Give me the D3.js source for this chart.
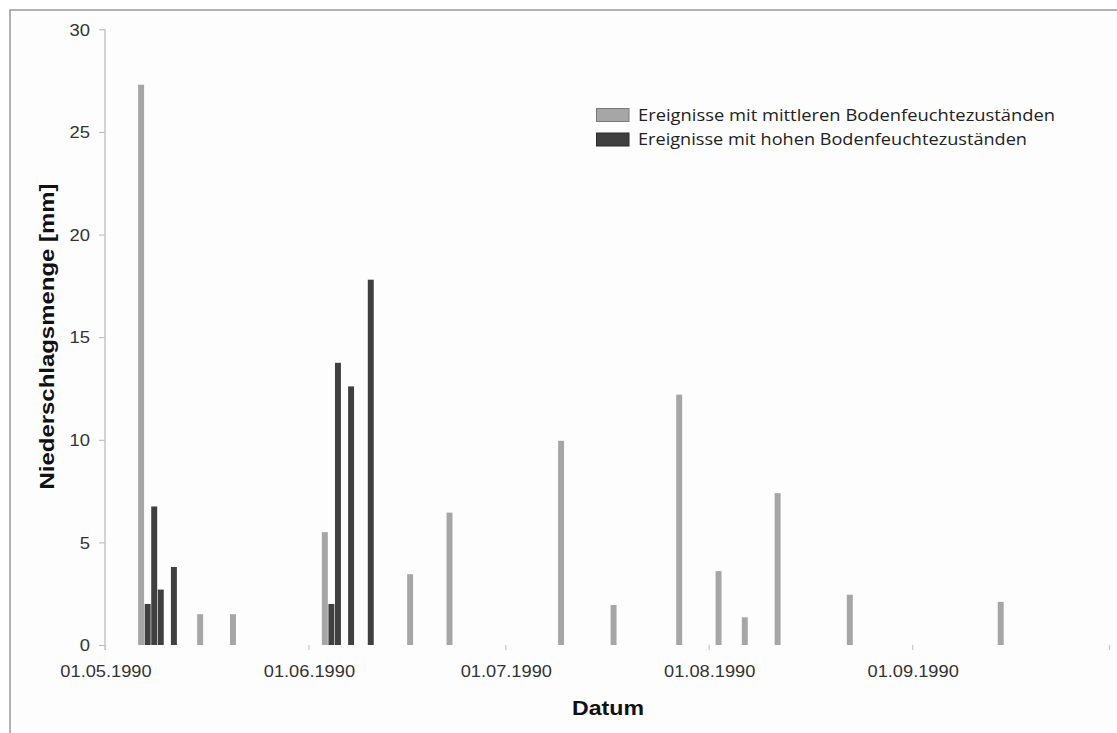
<!DOCTYPE html>
<html>
<head>
<meta charset="utf-8">
<script src="https://cdn.jsdelivr.net/npm/d3@7"></script>
<style>
  html, body { margin: 0; padding: 0; background: #ffffff; }
  svg { display: block; }
</style>
</head>
<body>
<svg id="chart" width="1117" height="733"></svg>
<script>
// ---- data ----
const seriesNames = ["Ereignisse mit mittleren Bodenfeuchtezuständen", "Ereignisse mit hohen Bodenfeuchtezuständen"];
const mittlereDates = ["1990-05-06","1990-05-15","1990-05-20","1990-06-03","1990-06-16","1990-06-22","1990-07-09","1990-07-17","1990-07-27","1990-08-02","1990-08-06","1990-08-11","1990-08-22","1990-09-14"];
const mittlereValues = [27.3, 1.5, 1.5, 5.5, 3.45, 6.45, 9.95, 1.95, 12.2, 3.6, 1.35, 7.4, 2.45, 2.1];
const hoheDates = ["1990-05-07","1990-05-08","1990-05-09","1990-05-11","1990-06-04","1990-06-05","1990-06-07","1990-06-10"];
const hoheValues = [2.0, 6.75, 2.7, 3.8, 2.0, 13.75, 12.6, 17.8];
const xTickDates = ["1990-05-01","1990-06-01","1990-07-01","1990-08-01","1990-09-01","1990-10-01"];
const xLabelDates = ["1990-05-01","1990-06-01","1990-07-01","1990-08-01","1990-09-01"];
const yTicks = [0, 5, 10, 15, 20, 25, 30];
const colors = ["#a6a6a6", "#404040"];

const parse = d3.utcParse("%Y-%m-%d");
const fmt = d3.utcFormat("%d.%m.%Y");

const svg = d3.select("#chart");

// outer frame (extends beyond the image at right/bottom)
svg.append("rect").attr("x", 10).attr("y", 10).attr("width", 1200).attr("height", 800)
  .attr("fill", "#fdfdfd").attr("stroke", "#9a9a9a").attr("stroke-width", 1.5);

const x = d3.scaleUtc().domain([parse("1990-05-01"), parse("1990-10-01")]).range([105, 1109]);
const y = d3.scaleLinear().domain([0, 30]).range([645, 29.3]);

function stretch(sel, k) {
  sel.each(function() {
    const w = this.getComputedTextLength();
    d3.select(this).attr("textLength", w * k).attr("lengthAdjust", "spacingAndGlyphs");
  });
}

// y axis
const yAxis = svg.append("g").attr("transform", "translate(105,0)")
  .call(d3.axisLeft(y).tickValues(yTicks).tickSize(6).tickPadding(9).tickSizeOuter(0));
yAxis.select(".domain").remove();
yAxis.selectAll(".tick line").attr("stroke", "#b8b8b8").attr("stroke-width", 1);
yAxis.selectAll(".tick text").attr("font-family", "Liberation Sans, Arial, sans-serif")
  .attr("font-size", 16).attr("fill", "#333").attr("dy", "0.36em");
stretch(yAxis.selectAll(".tick text"), 1.15);
svg.append("line").attr("x1", 105).attr("x2", 105).attr("y1", y(30)).attr("y2", y(0) + 5)
  .attr("stroke", "#c4c4c4").attr("stroke-width", 1.5);

// x axis tick marks
const xAxis = svg.append("g").attr("transform", `translate(0,${y(0)})`)
  .call(d3.axisBottom(x).tickValues(xTickDates.map(parse)).tickSize(5).tickFormat(""));
xAxis.select(".domain").remove();
xAxis.selectAll(".tick line").attr("stroke", "#c8c8c8").attr("stroke-width", 1.2);

// x labels
const xl = svg.append("g").selectAll("text").data(xLabelDates.map(parse)).join("text")
  .attr("x", d => x(d) + 1).attr("y", 677).attr("text-anchor", "middle")
  .attr("font-family", "Liberation Sans, Arial, sans-serif").attr("font-size", 16).attr("fill", "#333")
  .text(d => fmt(d));
stretch(xl, 1.14);

// bars
const dayW = x(parse("1990-05-02")) - x(parse("1990-05-01"));
function drawBars(dates, values, color) {
  const data = dates.map((d, i) => ({ date: parse(d), v: values[i] }));
  svg.append("g").selectAll("rect").data(data).join("rect")
    .attr("x", d => x(d.date) + 0.3)
    .attr("width", dayW - 0.6)
    .attr("y", d => y(d.v))
    .attr("height", d => y(0) - y(d.v))
    .attr("fill", color);
}
drawBars(mittlereDates, mittlereValues, colors[0]);
drawBars(hoheDates, hoheValues, colors[1]);

// axis titles
const yt = svg.append("text").attr("transform", "translate(54,336.5) rotate(-90)")
  .attr("text-anchor", "middle").attr("font-family", "Liberation Sans, Arial, sans-serif")
  .attr("font-weight", "bold").attr("font-size", 21).attr("fill", "#111")
  .text("Niederschlagsmenge [mm]");
yt.attr("textLength", 306).attr("lengthAdjust", "spacingAndGlyphs");

const xt = svg.append("text").attr("x", 608).attr("y", 715).attr("text-anchor", "middle")
  .attr("font-family", "Liberation Sans, Arial, sans-serif").attr("font-weight", "bold")
  .attr("font-size", 21).attr("fill", "#111").text("Datum");
xt.attr("textLength", 72).attr("lengthAdjust", "spacingAndGlyphs");

// legend
const legendY = [108.5, 133];
const legendW = [417, 389];
const legendStroke = ["#7a7a7a", "#2a2a2a"];
const lg = svg.append("g").selectAll("g").data(seriesNames).join("g");
lg.append("rect").attr("x", 596.5).attr("y", (d, i) => legendY[i]).attr("width", 32.5).attr("height", 13)
  .attr("fill", (d, i) => colors[i]).attr("stroke", (d, i) => legendStroke[i]).attr("stroke-width", 1);
lg.append("text").attr("x", 638).attr("y", (d, i) => legendY[i] + 12.3)
  .attr("font-family", "Open Sans, Noto Sans, sans-serif").attr("font-size", 15.5).attr("fill", "#222")
  .attr("textLength", (d, i) => legendW[i]).attr("lengthAdjust", "spacingAndGlyphs")
  .text(d => d);
</script>
</body>
</html>
